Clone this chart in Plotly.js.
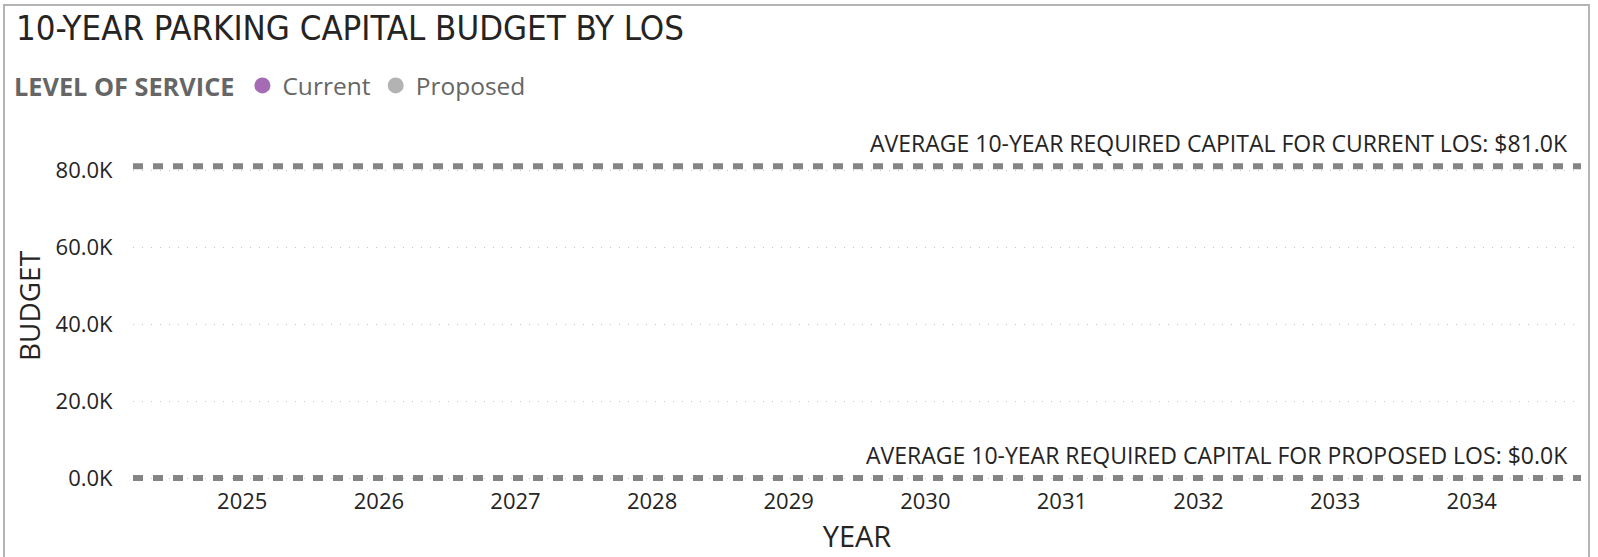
<!DOCTYPE html>
<html>
<head>
<meta charset="utf-8">
<script src="https://cdn.plot.ly/plotly-3.0.1.min.js"></script>
<style>
  html, body { margin: 0; padding: 0; background: #ffffff; overflow: hidden; }
  #chart { width: 1598px; height: 557px; position: absolute; left: 0; top: 0; }
  #frame { position: absolute; left: 3px; top: 4px; width: 1587px; height: 600px;
           box-sizing: border-box; border: 2px solid #b4b4b4; pointer-events: none; }
</style>
</head>
<body>
<div id="chart"></div>
<div id="frame"></div>
<script>
// ---- data ----
const years = [2025, 2026, 2027, 2028, 2029, 2030, 2031, 2032, 2033, 2034];
const currentBudget  = [0, 0, 0, 0, 0, 0, 0, 0, 0, 0];
const proposedBudget = [0, 0, 0, 0, 0, 0, 0, 0, 0, 0];
const seriesNames = ['Current', 'Proposed'];
const currentAvg = 81000;
const proposedAvg = 0;
const yTickVals = [0, 20000, 40000, 60000, 80000];
const yTickText = ['0.0K', '20.0K', '40.0K', '60.0K', '80.0K'];
const currentLabel = 'AVERAGE 10-YEAR REQUIRED CAPITAL FOR CURRENT LOS: $81.0K';
const proposedLabel = 'AVERAGE 10-YEAR REQUIRED CAPITAL FOR PROPOSED LOS: $0.0K';

const colCurrent = '#A66BB5';
const colProposed = '#B3B3B3';
const textDark = '#252423';
const baseFont = 'Open Sans, Noto Sans, DejaVu Sans, sans-serif';

const traces = [
  { type: 'bar', x: years, y: currentBudget, name: seriesNames[0], marker: { color: colCurrent, line: { width: 0 } }, showlegend: false, hoverinfo: 'skip' },
  { type: 'bar', x: years, y: proposedBudget, name: seriesNames[1], marker: { color: colProposed, line: { width: 0 } }, showlegend: false, hoverinfo: 'skip' },
  { type: 'scatter', mode: 'markers', x: [null], y: [null], name: seriesNames[0], marker: { color: colCurrent, size: 18, symbol: 'circle' }, hoverinfo: 'skip' },
  { type: 'scatter', mode: 'markers', x: [null], y: [null], name: seriesNames[1], marker: { color: colProposed, size: 18, symbol: 'circle' }, hoverinfo: 'skip' }
];

const layout = {
  width: 1598, height: 557,
  paper_bgcolor: 'rgba(0,0,0,0)', plot_bgcolor: 'rgba(0,0,0,0)',
  margin: { l: 133, r: 17, t: 126, b: 71, pad: 0 },
  font: { family: baseFont, color: textDark, size: 22 },
  barmode: 'group',
  title: {
    text: '10-YEAR PARKING CAPITAL BUDGET BY LOS',
    xref: 'container', yref: 'container',
    x: 16 / 1598, xanchor: 'left',
    y: 1 - 27.5 / 557, yanchor: 'middle',
    font: { family: 'Liberation Sans Narrow, DejaVu Sans Condensed, Roboto, sans-serif', size: 34.5, color: textDark }
  },
  showlegend: true,
  legend: {
    orientation: 'h',
    xref: 'container', yref: 'container',
    x: 12 / 1598, xanchor: 'left',
    y: 1 - 85.5 / 557, yanchor: 'middle',
    bgcolor: 'rgba(0,0,0,0)', borderwidth: 0,
    font: { family: baseFont, size: 24.5, color: '#666666' },
    title: { text: '<b>LEVEL OF SERVICE</b>', side: 'left', font: { family: baseFont, size: 25.3, color: '#666666' } },
    itemwidth: 30,
    traceorder: 'normal'
  },
  xaxis: {
    type: 'linear',
    range: [2024.2, 2034.8],
    tickvals: years,
    ticktext: years.map(String),
    ticks: '',
    showgrid: false, zeroline: false, showline: false,
    tickfont: { size: 22, color: textDark },
    title: { text: 'YEAR', font: { size: 29, color: textDark }, standoff: 12 }
  },
  yaxis: {
    range: [-2078, 91429],
    tickvals: yTickVals,
    ticktext: yTickText,
    ticks: 'outside', ticklen: 15, tickcolor: 'rgba(0,0,0,0)',
    showgrid: true, gridcolor: '#c4c4c4', gridwidth: 1, griddash: '1px,8px',
    zeroline: false, showline: false,
    tickfont: { size: 22, color: textDark },
    title: { text: 'BUDGET', font: { size: 28, color: textDark }, standoff: 6 }
  },
  shapes: [
    { type: 'line', xref: 'paper', yref: 'y', x0: 0, x1: 1, y0: currentAvg, y1: currentAvg,
      line: { color: '#858585', width: 6, dash: '10px,10px' }, layer: 'above' },
    { type: 'line', xref: 'paper', yref: 'y', x0: 0, x1: 1, y0: proposedAvg, y1: proposedAvg,
      line: { color: '#858585', width: 6, dash: '10px,10px' }, layer: 'above' }
  ],
  annotations: [
    { text: currentLabel, xref: 'paper', yref: 'y', x: 1, y: currentAvg, xanchor: 'right', yanchor: 'bottom',
      xshift: -11, yshift: 5, showarrow: false, font: { size: 23, color: textDark } },
    { text: proposedLabel, xref: 'paper', yref: 'y', x: 1, y: proposedAvg, xanchor: 'right', yanchor: 'bottom',
      xshift: -11, yshift: 5, showarrow: false, font: { size: 23, color: textDark } }
  ]
};

Plotly.newPlot('chart', traces, layout, { displayModeBar: false, staticPlot: true });
</script>
</body>
</html>
